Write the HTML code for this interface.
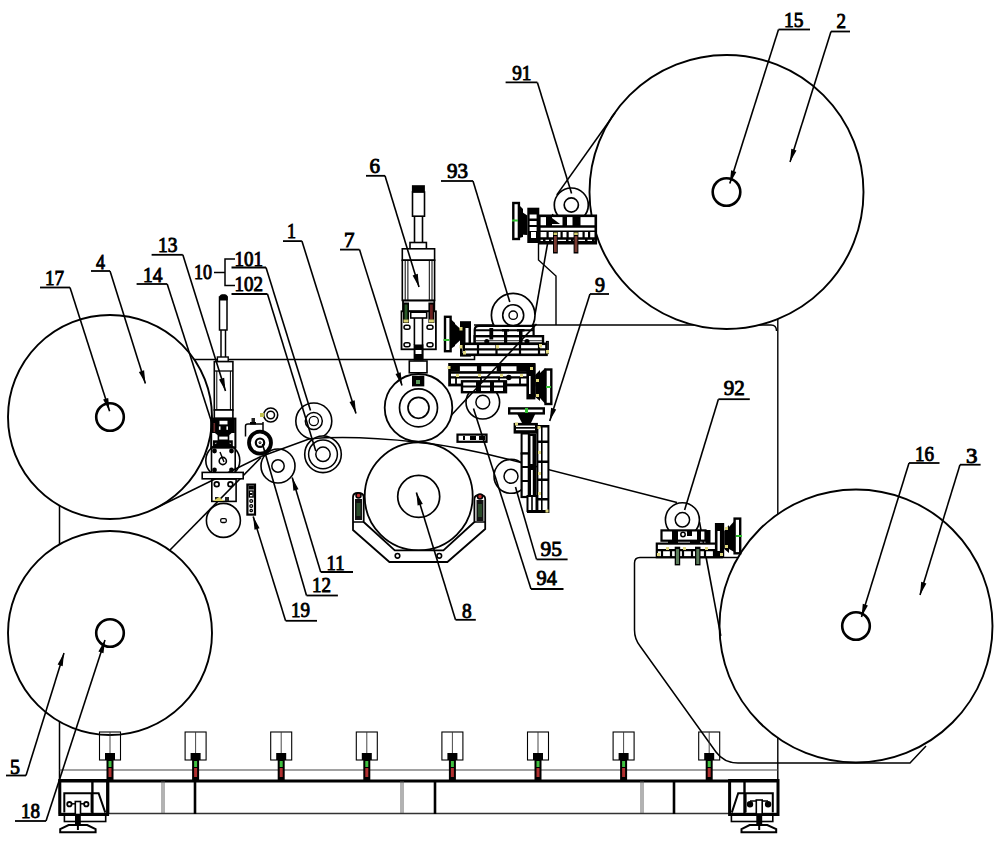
<!DOCTYPE html>
<html><head><meta charset="utf-8"><style>
html,body{margin:0;padding:0;background:#fff;width:1000px;height:841px;overflow:hidden}
svg{display:block}
text{font-family:"Liberation Serif",serif;font-size:21.4px;fill:#000;stroke:#000;stroke-width:0.95}
</style></head><body>
<svg width="1000" height="841" viewBox="0 0 1000 841">
<rect width="1000" height="841" fill="#fff"/>
<line x1="59.5" y1="500" x2="59.5" y2="814" stroke="#000" stroke-width="1.5"/>
<path d="M110,359.5 H474.5 V356" stroke="#000" stroke-width="1.6" fill="none"/>
<path d="M474,325 H771 Q776.5,325 776.5,331" stroke="#000" stroke-width="1.4" fill="none"/>
<line x1="777.8" y1="300" x2="777.8" y2="816" stroke="#000" stroke-width="1.4"/>
<path d="M760,557.4 H640 Q634.5,557.4 634.5,563 V630 Q634.5,639 640,646 L716,752 Q724,763 738,763 H910 L926,746" stroke="#000" stroke-width="1.5" fill="none"/>
<path d="M538.5,242 V260 L556,276 V325" stroke="#000" stroke-width="1.4" fill="none"/>
<line x1="59.5" y1="770" x2="778" y2="770" stroke="#444" stroke-width="1.1"/>
<line x1="59.5" y1="781" x2="778" y2="781" stroke="#000" stroke-width="3.2"/>
<line x1="59.5" y1="813.5" x2="778" y2="813.5" stroke="#333" stroke-width="1.3"/>
<line x1="108" y1="781" x2="108" y2="814" stroke="#000" stroke-width="2.6"/>
<line x1="195" y1="781" x2="195" y2="814" stroke="#000" stroke-width="2.6"/>
<line x1="435" y1="781" x2="435" y2="814" stroke="#000" stroke-width="2.6"/>
<line x1="674" y1="781" x2="674" y2="814" stroke="#000" stroke-width="2.6"/>
<line x1="162" y1="781" x2="162" y2="813" stroke="#555" stroke-width="0.9"/>
<line x1="164" y1="781" x2="164" y2="813" stroke="#555" stroke-width="0.9"/>
<line x1="401" y1="781" x2="401" y2="813" stroke="#555" stroke-width="0.9"/>
<line x1="403" y1="781" x2="403" y2="813" stroke="#555" stroke-width="0.9"/>
<line x1="641" y1="781" x2="641" y2="813" stroke="#555" stroke-width="0.9"/>
<line x1="643" y1="781" x2="643" y2="813" stroke="#555" stroke-width="0.9"/>
<rect x="59.8" y="780.5" width="47.8" height="34" stroke="#000" stroke-width="3" fill="none"/>
<line x1="92.4" y1="781" x2="92.4" y2="814" stroke="#000" stroke-width="2.4"/>
<path d="M64.3,812.6 V793.2 H98.6 L105.3,812.6" stroke="#000" stroke-width="2" fill="none"/>
<line x1="91.4" y1="793.2" x2="91.4" y2="812.6" stroke="#000" stroke-width="1.6"/>
<line x1="67" y1="803.8" x2="89" y2="803.8" stroke="#000" stroke-width="1.5"/>
<circle cx="69.4" cy="804.2" r="2.2" stroke="#000" stroke-width="1.8" fill="#fff"/>
<circle cx="86.3" cy="804.2" r="2.2" stroke="#000" stroke-width="1.8" fill="#fff"/>
<rect x="75.3" y="801.5" width="5.2" height="13" stroke="#000" stroke-width="1.6" fill="#fff"/>
<rect x="64.4" y="815.2" width="41.3" height="6.3" stroke="#000" stroke-width="1.6" fill="#fff"/>
<rect x="75" y="814" width="5.8" height="11" fill="#000"/>
<path d="M60.2,829.2 L68.6,825 H87.2 L95.6,829.2 V832.2 H60.2 Z" stroke="#000" stroke-width="2" fill="#fff"/>
<line x1="77.9" y1="821" x2="77.9" y2="830" stroke="#000" stroke-width="2"/>
<rect x="729.6" y="780.5" width="48.4" height="34" stroke="#000" stroke-width="3" fill="none"/>
<line x1="744.5" y1="781" x2="744.5" y2="814" stroke="#000" stroke-width="2.4"/>
<path d="M772.8,812.6 V793.2 H738.2 L731.8,812.6" stroke="#000" stroke-width="2" fill="none"/>
<line x1="745.8" y1="793.2" x2="745.8" y2="812.6" stroke="#000" stroke-width="1.6"/>
<line x1="750" y1="801" x2="768" y2="801" stroke="#000" stroke-width="1.5"/>
<circle cx="750" cy="804.2" r="2.4" stroke="#000" stroke-width="1.6" fill="#000"/>
<circle cx="768.1" cy="804.2" r="2.4" stroke="#000" stroke-width="1.6" fill="#000"/>
<rect x="756.3" y="800" width="5.9" height="14" stroke="#000" stroke-width="1.6" fill="#fff"/>
<rect x="731.4" y="815.2" width="41.4" height="6.3" stroke="#000" stroke-width="1.6" fill="#fff"/>
<rect x="756.3" y="814" width="5.9" height="11" fill="#000"/>
<path d="M741.5,829.2 L749.6,825 H767.3 L776.2,829.2 V832.2 H741.5 Z" stroke="#000" stroke-width="2" fill="#fff"/>
<line x1="759.2" y1="821" x2="759.2" y2="830" stroke="#000" stroke-width="2"/>
<circle cx="726.5" cy="192" r="137" stroke="#000" stroke-width="1.9" fill="#fff"/>
<circle cx="856" cy="626" r="136.5" stroke="#000" stroke-width="1.9" fill="#fff"/>
<circle cx="110" cy="417" r="102" stroke="#000" stroke-width="1.9" fill="#fff"/>
<circle cx="110" cy="633" r="102" stroke="#000" stroke-width="1.9" fill="#fff"/>
<circle cx="726.5" cy="192" r="13.8" stroke="#000" stroke-width="2.6" fill="none"/>
<circle cx="856" cy="626" r="13.8" stroke="#000" stroke-width="2.6" fill="none"/>
<circle cx="110" cy="417" r="13.8" stroke="#000" stroke-width="2.6" fill="none"/>
<circle cx="110" cy="633" r="13.8" stroke="#000" stroke-width="2.6" fill="none"/>
<rect x="99.5" y="732" width="21" height="28" stroke="#000" stroke-width="1.1" fill="none"/>
<line x1="110" y1="732" x2="110" y2="754" stroke="#333" stroke-width="0.9"/>
<rect x="105" y="753" width="10" height="7" fill="#000"/>
<rect x="106.5" y="759" width="7" height="22" fill="#000"/>
<rect x="108.5" y="761" width="3" height="6" fill="#40c040"/>
<rect x="108.5" y="768" width="3" height="9" fill="#b03030"/>
<rect x="185.1" y="732" width="21" height="28" stroke="#000" stroke-width="1.1" fill="none"/>
<line x1="195.6" y1="732" x2="195.6" y2="754" stroke="#333" stroke-width="0.9"/>
<rect x="190.6" y="753" width="10" height="7" fill="#000"/>
<rect x="192.1" y="759" width="7" height="22" fill="#000"/>
<rect x="194.1" y="761" width="3" height="6" fill="#40c040"/>
<rect x="194.1" y="768" width="3" height="9" fill="#b03030"/>
<rect x="270.7" y="732" width="21" height="28" stroke="#000" stroke-width="1.1" fill="none"/>
<line x1="281.2" y1="732" x2="281.2" y2="754" stroke="#333" stroke-width="0.9"/>
<rect x="276.2" y="753" width="10" height="7" fill="#000"/>
<rect x="277.7" y="759" width="7" height="22" fill="#000"/>
<rect x="279.7" y="761" width="3" height="6" fill="#40c040"/>
<rect x="279.7" y="768" width="3" height="9" fill="#b03030"/>
<rect x="356.3" y="732" width="21" height="28" stroke="#000" stroke-width="1.1" fill="none"/>
<line x1="366.8" y1="732" x2="366.8" y2="754" stroke="#333" stroke-width="0.9"/>
<rect x="361.8" y="753" width="10" height="7" fill="#000"/>
<rect x="363.3" y="759" width="7" height="22" fill="#000"/>
<rect x="365.3" y="761" width="3" height="6" fill="#40c040"/>
<rect x="365.3" y="768" width="3" height="9" fill="#b03030"/>
<rect x="441.9" y="732" width="21" height="28" stroke="#000" stroke-width="1.1" fill="none"/>
<line x1="452.4" y1="732" x2="452.4" y2="754" stroke="#333" stroke-width="0.9"/>
<rect x="447.4" y="753" width="10" height="7" fill="#000"/>
<rect x="448.9" y="759" width="7" height="22" fill="#000"/>
<rect x="450.9" y="761" width="3" height="6" fill="#40c040"/>
<rect x="450.9" y="768" width="3" height="9" fill="#b03030"/>
<rect x="527.5" y="732" width="21" height="28" stroke="#000" stroke-width="1.1" fill="none"/>
<line x1="538" y1="732" x2="538" y2="754" stroke="#333" stroke-width="0.9"/>
<rect x="533" y="753" width="10" height="7" fill="#000"/>
<rect x="534.5" y="759" width="7" height="22" fill="#000"/>
<rect x="536.5" y="761" width="3" height="6" fill="#40c040"/>
<rect x="536.5" y="768" width="3" height="9" fill="#b03030"/>
<rect x="613.1" y="732" width="21" height="28" stroke="#000" stroke-width="1.1" fill="none"/>
<line x1="623.6" y1="732" x2="623.6" y2="754" stroke="#333" stroke-width="0.9"/>
<rect x="618.6" y="753" width="10" height="7" fill="#000"/>
<rect x="620.1" y="759" width="7" height="22" fill="#000"/>
<rect x="622.1" y="761" width="3" height="6" fill="#40c040"/>
<rect x="622.1" y="768" width="3" height="9" fill="#b03030"/>
<rect x="698.7" y="732" width="21" height="28" stroke="#000" stroke-width="1.1" fill="none"/>
<line x1="709.2" y1="732" x2="709.2" y2="754" stroke="#333" stroke-width="0.9"/>
<rect x="704.2" y="753" width="10" height="7" fill="#000"/>
<rect x="705.7" y="759" width="7" height="22" fill="#000"/>
<rect x="707.7" y="761" width="3" height="6" fill="#40c040"/>
<rect x="707.7" y="768" width="3" height="9" fill="#b03030"/>
<circle cx="418.7" cy="496.4" r="54" stroke="#000" stroke-width="1.8" fill="#fff"/>
<circle cx="418.7" cy="496.4" r="21" stroke="#000" stroke-width="1.7" fill="none"/>
<circle cx="418.5" cy="407.8" r="33.8" stroke="#000" stroke-width="1.8" fill="#fff"/>
<circle cx="418.5" cy="407.8" r="19" stroke="#000" stroke-width="1.7" fill="none"/>
<circle cx="418.5" cy="407.8" r="10.5" stroke="#000" stroke-width="1.7" fill="none"/>
<circle cx="313.8" cy="421" r="18" stroke="#000" stroke-width="1.6" fill="#fff"/>
<circle cx="313.8" cy="421" r="8.5" stroke="#000" stroke-width="1.5" fill="none"/>
<circle cx="313.8" cy="421" r="4.6" stroke="#000" stroke-width="1.3" fill="none"/>
<circle cx="323" cy="454.3" r="18.3" stroke="#000" stroke-width="1.6" fill="#fff"/>
<circle cx="323" cy="454.3" r="14.4" stroke="#000" stroke-width="1.5" fill="none"/>
<circle cx="323" cy="454.3" r="7.2" stroke="#000" stroke-width="1.5" fill="none"/>
<circle cx="278" cy="466" r="17" stroke="#000" stroke-width="1.6" fill="#fff"/>
<circle cx="278" cy="466" r="6.2" stroke="#000" stroke-width="1.5" fill="none"/>
<circle cx="571.3" cy="205" r="17" stroke="#000" stroke-width="1.7" fill="#fff"/>
<circle cx="571.3" cy="205" r="7.1" stroke="#000" stroke-width="1.7" fill="none"/>
<circle cx="513.2" cy="315.2" r="21.8" stroke="#000" stroke-width="1.7" fill="#fff"/>
<circle cx="513.2" cy="315.2" r="10.5" stroke="#000" stroke-width="1.6" fill="none"/>
<circle cx="513.2" cy="315.2" r="4.2" stroke="#000" stroke-width="1.4" fill="none"/>
<circle cx="482.8" cy="402.2" r="16.8" stroke="#000" stroke-width="1.6" fill="#fff"/>
<circle cx="482.8" cy="402.2" r="6.9" stroke="#000" stroke-width="1.5" fill="none"/>
<circle cx="511" cy="476.3" r="17" stroke="#000" stroke-width="1.6" fill="#fff"/>
<circle cx="511" cy="476.3" r="7" stroke="#000" stroke-width="1.5" fill="none"/>
<circle cx="682.4" cy="519.8" r="17" stroke="#000" stroke-width="1.6" fill="#fff"/>
<circle cx="682.4" cy="519.8" r="7.2" stroke="#000" stroke-width="1.5" fill="none"/>
<path d="M699.5,522 L720.8,635.8" stroke="#000" stroke-width="1.6" fill="none"/>
<path d="M615,113 L556.8,194.9" stroke="#000" stroke-width="1.6" fill="none"/>
<path d="M552.8,214 L535,314.5" stroke="#000" stroke-width="1.6" fill="none"/>
<path d="M155,508.5 L261,456.5" stroke="#000" stroke-width="1.6" fill="none"/>
<path d="M170,550 L261,457.5" stroke="#000" stroke-width="1.6" fill="none"/>
<path d="M261,456.5 L309,439 C335,436.5 375,437.5 418,442.2 C450,445.5 480,452 507,459 L677,502.5" stroke="#000" stroke-width="1.6" fill="none"/>
<rect x="412.5" y="192" width="12" height="24.2" stroke="#000" stroke-width="1.6" fill="#fff"/>
<rect x="411.9" y="185.2" width="13" height="7.2" fill="#000"/>
<line x1="414.5" y1="216" x2="414.5" y2="242.5" stroke="#000" stroke-width="1.6"/>
<line x1="422.5" y1="216" x2="422.5" y2="242.5" stroke="#000" stroke-width="1.6"/>
<rect x="410" y="242.5" width="16.4" height="6.3" stroke="#000" stroke-width="1.6" fill="#fff"/>
<rect x="402.3" y="248.8" width="32.3" height="11.5" stroke="#000" stroke-width="1.6" fill="#fff"/>
<rect x="402.3" y="260.2" width="32.3" height="40.2" stroke="#000" stroke-width="1.6" fill="#fff"/>
<line x1="405.2" y1="260.2" x2="405.2" y2="300.4" stroke="#000" stroke-width="1.0"/>
<line x1="407.9" y1="260.2" x2="407.9" y2="300.4" stroke="#000" stroke-width="1.0"/>
<line x1="429.3" y1="260.2" x2="429.3" y2="300.4" stroke="#000" stroke-width="1.0"/>
<line x1="432" y1="260.2" x2="432" y2="300.4" stroke="#000" stroke-width="1.0"/>
<rect x="403" y="300.6" width="31.3" height="10.7" stroke="#000" stroke-width="1.8" fill="#fff"/>
<rect x="401.5" y="311.3" width="34.4" height="38" stroke="#000" stroke-width="1.8" fill="#fff"/>
<rect x="403" y="302.5" width="6" height="20.5" fill="#000"/>
<rect x="404.6" y="304.5" width="2.8" height="15" fill="#2a5a2a"/>
<rect x="403.5" y="319.5" width="5" height="3" fill="#d8d070"/>
<rect x="428.4" y="302.5" width="6" height="20.5" fill="#000"/>
<rect x="430" y="304.5" width="2.8" height="15" fill="#6a2020"/>
<rect x="428.9" y="319.5" width="5" height="3" fill="#d8d070"/>
<rect x="410.7" y="312.2" width="16" height="5.8" stroke="#000" stroke-width="1.6" fill="#fff"/>
<line x1="414.4" y1="318" x2="414.4" y2="345" stroke="#000" stroke-width="1.6"/>
<line x1="422.5" y1="318" x2="422.5" y2="345" stroke="#000" stroke-width="1.6"/>
<rect x="404" y="325.3" width="6" height="4" stroke="#000" stroke-width="1.5" fill="none" rx="2"/>
<rect x="427" y="325.3" width="6" height="4" stroke="#000" stroke-width="1.5" fill="none" rx="2"/>
<rect x="404" y="342.7" width="6" height="4" stroke="#000" stroke-width="1.5" fill="none" rx="2"/>
<rect x="427" y="342.7" width="6" height="4" stroke="#000" stroke-width="1.5" fill="none" rx="2"/>
<rect x="413.6" y="344.5" width="10" height="16" fill="#000"/>
<rect x="415.5" y="350" width="6" height="4" fill="#fff"/>
<rect x="409.3" y="361" width="17.7" height="11.8" stroke="#000" stroke-width="1.6" fill="#fff"/>
<rect x="412" y="375.7" width="12.3" height="10.7" fill="#000"/>
<rect x="416" y="380" width="4" height="4" fill="#5a9a5a"/>
<rect x="219.5" y="297" width="7.5" height="33" stroke="#000" stroke-width="1.5" fill="#fff"/>
<path d="M219.8,300 V297 Q219.8,294.8 222,294.8 H225 Q227.2,294.8 227.2,297 V300 Z" stroke="#000" stroke-width="1" fill="#000"/>
<line x1="221" y1="330" x2="221" y2="357" stroke="#000" stroke-width="1.5"/>
<line x1="225.5" y1="330" x2="225.5" y2="357" stroke="#000" stroke-width="1.5"/>
<rect x="217.4" y="357" width="10.8" height="4.6" stroke="#000" stroke-width="1.4" fill="#fff"/>
<rect x="214.3" y="361.6" width="18.6" height="48.4" stroke="#000" stroke-width="1.6" fill="#fff"/>
<line x1="214.3" y1="371" x2="232.9" y2="371" stroke="#000" stroke-width="1.3"/>
<line x1="216.8" y1="371" x2="216.8" y2="410" stroke="#000" stroke-width="1.0"/>
<line x1="230.4" y1="371" x2="230.4" y2="410" stroke="#000" stroke-width="1.0"/>
<rect x="214.3" y="410" width="18.6" height="8.4" stroke="#000" stroke-width="1.6" fill="#fff"/>
<rect x="211.2" y="418.6" width="24.2" height="29" stroke="#000" stroke-width="2" fill="#fff"/>
<rect x="212" y="419" width="22.8" height="14" fill="#000"/>
<rect x="219.5" y="420.8" width="8" height="3.6" fill="#fff"/>
<rect x="218.9" y="426.4" width="1.6" height="3.4" fill="#fff"/>
<rect x="226.4" y="426.4" width="1.6" height="3.4" fill="#fff"/>
<rect x="213.5" y="423" width="1.6" height="9" fill="#6a2a2a"/>
<path d="M214.6,432.8 L232,432.8 L228.5,435.8 L218.4,435.8 Z" fill="#000" stroke="#000" stroke-width="0"/>
<rect x="218.4" y="435.8" width="10.1" height="4.5" stroke="#000" stroke-width="1.6" fill="#fff"/>
<rect x="213" y="440.3" width="19.8" height="6.9" fill="#000"/>
<circle cx="215.8" cy="443.6" r="1" stroke="#000" stroke-width="1" fill="#fff"/>
<circle cx="230.2" cy="443.6" r="1" stroke="#000" stroke-width="1" fill="#fff"/>
<circle cx="222.8" cy="460.5" r="17" stroke="#000" stroke-width="1.6" fill="none"/>
<rect x="211.5" y="447.4" width="23.7" height="26.2" stroke="#000" stroke-width="1.6" fill="none"/>
<circle cx="214.5" cy="451" r="1.6" stroke="#000" stroke-width="1.6" fill="#000"/>
<circle cx="231.5" cy="451" r="1.6" stroke="#000" stroke-width="1.6" fill="#000"/>
<circle cx="214.5" cy="470" r="1.6" stroke="#000" stroke-width="1.6" fill="#000"/>
<circle cx="231.5" cy="470" r="1.6" stroke="#000" stroke-width="1.6" fill="#000"/>
<circle cx="222.8" cy="461" r="3.6" stroke="#000" stroke-width="1.6" fill="none"/>
<line x1="220" y1="452" x2="224" y2="462" stroke="#000" stroke-width="1.4"/>
<rect x="202.2" y="472.4" width="41" height="6.4" stroke="#000" stroke-width="1.6" fill="#fff"/>
<rect x="211.8" y="479" width="24.3" height="22.4" stroke="#000" stroke-width="1.6" fill="none"/>
<circle cx="216.7" cy="484.3" r="2.4" stroke="#000" stroke-width="1.7" fill="none"/>
<circle cx="230.4" cy="484.3" r="2.4" stroke="#000" stroke-width="1.7" fill="none"/>
<rect x="215" y="497" width="4" height="4" fill="#222"/>
<rect x="225" y="497" width="4" height="4" fill="#222"/>
<path d="M213,501 L219,497 L224,501 Z" fill="#d8d060" stroke="#000" stroke-width="0"/>
<circle cx="223.4" cy="520.4" r="17" stroke="#000" stroke-width="1.6" fill="#fff"/>
<rect x="220.7" y="518.6" width="5.6" height="3.9" stroke="#000" stroke-width="1.3" fill="none" rx="1.5"/>
<path d="M245.5,436.5 V426 Q245.5,424 248,424 H263" stroke="#000" stroke-width="1.5" fill="none"/>
<rect x="251.5" y="418" width="3.5" height="6" fill="#222"/>
<rect x="250" y="422" width="6" height="2.5" fill="#000"/>
<circle cx="270.7" cy="415" r="7" stroke="#000" stroke-width="1.6" fill="none"/>
<circle cx="270.7" cy="415" r="3.8" stroke="#000" stroke-width="1.5" fill="none"/>
<rect x="260" y="413" width="4" height="4" fill="#c0c050"/>
<line x1="263" y1="422" x2="263" y2="436" stroke="#000" stroke-width="1.5"/>
<circle cx="260" cy="442.7" r="11" stroke="#000" stroke-width="3.8" fill="#fff"/>
<circle cx="260" cy="442.7" r="4.2" stroke="#000" stroke-width="2.2" fill="none"/>
<circle cx="260" cy="442.7" r="1" stroke="#000" stroke-width="1" fill="none"/>
<rect x="247.4" y="484.6" width="7.6" height="30" stroke="#000" stroke-width="2.2" fill="#fff"/>
<rect x="248.5" y="486" width="5.4" height="3.5" fill="#000"/>
<rect x="249.3" y="491" width="3.8" height="6" stroke="#000" stroke-width="1.4" fill="none"/>
<rect x="249.8" y="493" width="2.6" height="2" fill="#000"/>
<circle cx="251.2" cy="501" r="1.4" stroke="#000" stroke-width="1.3" fill="none"/>
<circle cx="251.2" cy="506" r="1.4" stroke="#000" stroke-width="1.3" fill="none"/>
<circle cx="251.2" cy="510.5" r="1.2" stroke="#000" stroke-width="1.3" fill="none"/>
<rect x="513.3" y="203" width="5.6" height="36" stroke="#000" stroke-width="2.4" fill="#fff"/>
<path d="M519,210 L527.3,215.5 L527.3,235 L519,234.5 Z" fill="#000" stroke="#000" stroke-width="0"/>
<path d="M519,205 L523,209 L523,237 L519,238 Z" fill="#000" stroke="#000" stroke-width="0"/>
<rect x="527.3" y="207.7" width="12" height="35.3" fill="#000"/>
<rect x="529.6" y="214.5" width="7" height="4" fill="#fff"/>
<rect x="529.6" y="221" width="7" height="4" fill="#fff"/>
<rect x="529.6" y="227" width="7" height="4" fill="#fff"/>
<rect x="531" y="232" width="5" height="6" fill="#fff"/>
<rect x="539.3" y="215.8" width="56.5" height="27.4" stroke="#000" stroke-width="2.6" fill="#fff"/>
<line x1="539.3" y1="226.5" x2="595.8" y2="226.5" stroke="#000" stroke-width="2.6"/>
<line x1="539.3" y1="231.2" x2="595.8" y2="231.2" stroke="#000" stroke-width="1.6"/>
<line x1="539.3" y1="238.5" x2="595.8" y2="238.5" stroke="#000" stroke-width="2.4"/>
<rect x="546" y="216" width="6" height="10.5" fill="#000"/>
<rect x="562.5" y="216" width="4.5" height="10.5" fill="#000"/>
<rect x="572.5" y="216" width="8" height="10.5" fill="#000"/>
<path d="M552,218 L560,224 L552,224 Z" fill="#000" stroke="#000" stroke-width="0"/>
<rect x="546.5" y="231" width="2.2" height="7.5" fill="#000"/>
<rect x="560.5" y="231" width="2.2" height="7.5" fill="#000"/>
<rect x="566.5" y="231" width="2.2" height="7.5" fill="#000"/>
<rect x="582.5" y="231" width="2.2" height="7.5" fill="#000"/>
<rect x="588" y="231" width="2.2" height="7.5" fill="#000"/>
<line x1="539.3" y1="242.3" x2="595.8" y2="242.3" stroke="#000" stroke-width="2.8"/>
<rect x="543" y="238.5" width="2.5" height="4" fill="#000"/>
<rect x="549" y="238.5" width="2.5" height="4" fill="#000"/>
<rect x="566" y="238.5" width="2.5" height="4" fill="#000"/>
<rect x="571" y="238.5" width="2.5" height="4" fill="#000"/>
<rect x="585" y="238.5" width="2.5" height="4" fill="#000"/>
<rect x="592" y="238.5" width="2.5" height="4" fill="#000"/>
<rect x="553" y="232" width="4.8" height="21.5" fill="#000"/>
<rect x="554" y="236" width="2.8" height="16" fill="#7a3a30"/>
<rect x="573.6" y="232" width="4.8" height="21.5" fill="#000"/>
<rect x="574.6" y="236" width="2.8" height="16" fill="#7a3a30"/>
<rect x="553.6" y="232.5" width="3.6" height="2.5" fill="#d8d070"/>
<rect x="574.2" y="232.5" width="3.6" height="2.5" fill="#d8d070"/>
<rect x="512" y="219.5" width="6" height="2" fill="#30c030"/>
<rect x="445" y="316.8" width="5.6" height="34.4" stroke="#000" stroke-width="2.4" fill="#fff"/>
<path d="M450.6,319 L455,323 L455,346 L450.6,349 Z" fill="#000" stroke="#000" stroke-width="0"/>
<path d="M455,324 L460.5,329 L460.5,340 L455,345 Z" fill="#000" stroke="#000" stroke-width="0"/>
<rect x="460" y="321.2" width="11" height="35.4" fill="#000"/>
<rect x="465.5" y="328" width="3" height="18" fill="#fff"/>
<rect x="462" y="348" width="3" height="5" fill="#fff"/>
<path d="M474.7,343.8 V330 Q474.7,325.8 479,325.8 H533.6 V336.2" stroke="#000" stroke-width="2.2" fill="#fff"/>
<rect x="474.7" y="336.2" width="68.3" height="7.6" stroke="#000" stroke-width="2.4" fill="#fff"/>
<line x1="474.7" y1="330.3" x2="533.6" y2="330.3" stroke="#000" stroke-width="2"/>
<line x1="476" y1="340.6" x2="542" y2="340.6" stroke="#555" stroke-width="1.3"/>
<rect x="463.7" y="343.8" width="82.8" height="11" stroke="#000" stroke-width="2.6" fill="#fff"/>
<line x1="463.7" y1="349.3" x2="546.5" y2="349.3" stroke="#000" stroke-width="2.2"/>
<line x1="478" y1="343.8" x2="478" y2="354.8" stroke="#000" stroke-width="2.2"/>
<line x1="496.5" y1="343.8" x2="496.5" y2="354.8" stroke="#000" stroke-width="2.2"/>
<line x1="520" y1="343.8" x2="520" y2="354.8" stroke="#000" stroke-width="2.2"/>
<line x1="539" y1="343.8" x2="539" y2="354.8" stroke="#000" stroke-width="2.2"/>
<rect x="489.4" y="328" width="3.8" height="11.5" fill="#000"/>
<rect x="504" y="329" width="3.2" height="14" fill="#000"/>
<rect x="502" y="329" width="7" height="2.5" fill="#000"/>
<rect x="519" y="329" width="3.5" height="15" fill="#000"/>
<rect x="517" y="329" width="7.5" height="2.5" fill="#000"/>
<circle cx="486.8" cy="341.5" r="1.8" stroke="#000" stroke-width="1.5" fill="#000"/>
<circle cx="527" cy="341.5" r="1.8" stroke="#000" stroke-width="1.5" fill="#000"/>
<rect x="546.5" y="341.5" width="1.8" height="12" stroke="#000" stroke-width="1.2" fill="none"/>
<rect x="459.5" y="327" width="3" height="3.5" fill="#e0d880"/>
<rect x="459.5" y="345" width="3" height="3.5" fill="#e0d880"/>
<rect x="496" y="345" width="3" height="3.5" fill="#e0d880"/>
<rect x="539" y="344" width="3" height="3.5" fill="#e0d880"/>
<rect x="546" y="350" width="3" height="3.5" fill="#e0d880"/>
<rect x="463" y="351" width="3" height="3.5" fill="#e0d880"/>
<rect x="443.5" y="339" width="6" height="2" fill="#30c030"/>
<rect x="449.6" y="364.4" width="84.5" height="20.6" stroke="#000" stroke-width="2.8" fill="#fff"/>
<rect x="449.6" y="364.4" width="84.5" height="7.3" fill="#000"/>
<rect x="459.9" y="366.3" width="17" height="5" fill="#fff"/>
<rect x="481.3" y="366.3" width="15.4" height="5" fill="#fff"/>
<rect x="501.1" y="366.3" width="15.4" height="5" fill="#fff"/>
<line x1="449.6" y1="372.5" x2="534" y2="372.5" stroke="#000" stroke-width="2.4"/>
<line x1="449.6" y1="377.4" x2="534" y2="377.4" stroke="#000" stroke-width="2.2"/>
<line x1="456" y1="377.4" x2="456" y2="385" stroke="#000" stroke-width="1.8"/>
<line x1="481" y1="377.4" x2="481" y2="385" stroke="#000" stroke-width="1.8"/>
<line x1="499" y1="377.4" x2="499" y2="385" stroke="#000" stroke-width="1.8"/>
<line x1="520" y1="377.4" x2="520" y2="385" stroke="#000" stroke-width="1.8"/>
<rect x="462" y="381.3" width="44" height="10.9" stroke="#000" stroke-width="2.4" fill="#fff"/>
<line x1="462" y1="386.5" x2="506" y2="386.5" stroke="#000" stroke-width="1.8"/>
<rect x="476" y="381" width="5" height="11" fill="#000"/>
<rect x="490" y="381" width="4" height="11" fill="#000"/>
<rect x="503" y="381" width="4" height="11" fill="#000"/>
<circle cx="508.8" cy="377.4" r="2" stroke="#000" stroke-width="1.5" fill="#000"/>
<rect x="526.4" y="364.2" width="9" height="35.2" fill="#000"/>
<rect x="529" y="376" width="1.6" height="18" fill="#fff"/>
<path d="M535.2,375 L540,370 L540,401 L535.2,397 Z" fill="#000" stroke="#000" stroke-width="0"/>
<path d="M540,373 L545.3,368 L545.3,404 L540,398 Z" fill="#000" stroke="#000" stroke-width="0"/>
<rect x="545.5" y="369.5" width="5.8" height="34.5" stroke="#000" stroke-width="2.4" fill="#fff"/>
<rect x="447.5" y="366" width="3" height="3" fill="#e0d880"/>
<rect x="456" y="374" width="3" height="3" fill="#e0d880"/>
<rect x="478" y="374" width="3" height="3" fill="#e0d880"/>
<rect x="500" y="374" width="3" height="3" fill="#e0d880"/>
<rect x="520" y="374" width="3" height="3" fill="#e0d880"/>
<rect x="530" y="367" width="3" height="3" fill="#e0d880"/>
<rect x="536" y="379" width="3" height="3" fill="#e0d880"/>
<rect x="536" y="394" width="3" height="3" fill="#e0d880"/>
<rect x="546" y="386" width="5" height="2" fill="#30c030"/>
<rect x="509.2" y="408.4" width="34.6" height="5" stroke="#000" stroke-width="2.4" fill="#fff"/>
<path d="M517,413.6 L535.5,413.6 L531,423 L522,423 Z" fill="#000" stroke="#000" stroke-width="0"/>
<rect x="513.6" y="422.9" width="24.3" height="10.7" fill="#000"/>
<rect x="516" y="425.5" width="19" height="1.5" fill="#fff"/>
<rect x="516" y="428.7" width="19" height="1.5" fill="#fff"/>
<rect x="536.4" y="425" width="13" height="88" fill="#000"/>
<rect x="538.4" y="427.5" width="2.6" height="13" fill="#fff"/>
<rect x="542.6" y="427.5" width="4.8" height="13" fill="#fff"/>
<rect x="538.4" y="443" width="2.6" height="17.5" fill="#fff"/>
<rect x="542.6" y="443" width="4.8" height="17.5" fill="#fff"/>
<rect x="538.4" y="463" width="2.6" height="15.5" fill="#fff"/>
<rect x="542.6" y="463" width="4.8" height="15.5" fill="#fff"/>
<rect x="538.4" y="481" width="2.6" height="17" fill="#fff"/>
<rect x="542.6" y="481" width="4.8" height="17" fill="#fff"/>
<rect x="538.4" y="500.5" width="2.6" height="10" fill="#fff"/>
<rect x="542.6" y="500.5" width="4.8" height="10" fill="#fff"/>
<rect x="521.6" y="433.5" width="7.2" height="20" stroke="#000" stroke-width="2" fill="#fff"/>
<rect x="521.6" y="453.5" width="7.2" height="43.5" stroke="#000" stroke-width="2.2" fill="#fff"/>
<line x1="521.6" y1="467" x2="528.8" y2="467" stroke="#000" stroke-width="2"/>
<line x1="521.6" y1="481" x2="528.8" y2="481" stroke="#000" stroke-width="2"/>
<rect x="528.8" y="433.5" width="7.6" height="77" fill="#000"/>
<rect x="530.5" y="436" width="2" height="28" fill="#fff"/>
<rect x="531" y="470" width="1.8" height="30" fill="#fff"/>
<rect x="527.5" y="496" width="9" height="15" stroke="#000" stroke-width="2" fill="#fff"/>
<line x1="532" y1="496" x2="532" y2="511" stroke="#000" stroke-width="1.6"/>
<rect x="527" y="510" width="22" height="3" fill="#000"/>
<rect x="537.5" y="426" width="3" height="3" fill="#e0d880"/>
<rect x="538" y="451" width="3" height="3" fill="#e0d880"/>
<rect x="538" y="472" width="3" height="3" fill="#e0d880"/>
<rect x="538" y="492" width="3" height="3" fill="#e0d880"/>
<rect x="545.5" y="509.5" width="3" height="3" fill="#e0d880"/>
<rect x="515" y="422.5" width="3" height="3" fill="#e0d880"/>
<rect x="525" y="408" width="3" height="5" fill="#30c030"/>
<rect x="661.5" y="530.4" width="44" height="10.3" stroke="#000" stroke-width="2.2" fill="#fff"/>
<rect x="672" y="531" width="6" height="10" fill="#000"/>
<rect x="687" y="531" width="5" height="5" fill="#000"/>
<rect x="697" y="531" width="4" height="10" fill="#000"/>
<circle cx="683" cy="534.5" r="2.2" stroke="#000" stroke-width="1.5" fill="none"/>
<rect x="656.8" y="543.6" width="65" height="13.6" stroke="#000" stroke-width="2.2" fill="#fff"/>
<line x1="656.8" y1="550.2" x2="722" y2="550.2" stroke="#000" stroke-width="2.2"/>
<line x1="662" y1="550.2" x2="662" y2="557" stroke="#000" stroke-width="2.2"/>
<line x1="671" y1="550.2" x2="671" y2="557" stroke="#000" stroke-width="2.2"/>
<line x1="683" y1="550.2" x2="683" y2="557" stroke="#000" stroke-width="2.2"/>
<line x1="692" y1="550.2" x2="692" y2="557" stroke="#000" stroke-width="2.2"/>
<line x1="705" y1="550.2" x2="705" y2="557" stroke="#000" stroke-width="2.2"/>
<line x1="714" y1="550.2" x2="714" y2="557" stroke="#000" stroke-width="2.2"/>
<rect x="668" y="541" width="10" height="3" fill="#000"/>
<rect x="690" y="541" width="10" height="3" fill="#000"/>
<rect x="705.5" y="530" width="5" height="14" fill="#000"/>
<rect x="714.9" y="523" width="9.3" height="34" fill="#000"/>
<rect x="717.5" y="531" width="2.4" height="20" fill="#fff"/>
<path d="M724.2,531 L729,525 L729,553 L724.2,549 Z" fill="#000" stroke="#000" stroke-width="0"/>
<path d="M729,527 L734.3,521 L734.3,552 L729,549 Z" fill="#000" stroke="#000" stroke-width="0"/>
<rect x="734.6" y="518.6" width="5.6" height="34.7" stroke="#000" stroke-width="2.4" fill="#fff"/>
<rect x="674.7" y="546.7" width="5.5" height="18.7" fill="#000"/>
<rect x="676" y="549" width="3" height="15" fill="#5a7a5a"/>
<rect x="695" y="546.7" width="5.5" height="18.7" fill="#000"/>
<rect x="696.3" y="549" width="3" height="15" fill="#5a7a5a"/>
<rect x="657" y="553" width="3" height="3" fill="#e0d880"/>
<rect x="666" y="547" width="3" height="3" fill="#e0d880"/>
<rect x="683" y="547" width="3" height="3" fill="#e0d880"/>
<rect x="705" y="547" width="3" height="3" fill="#e0d880"/>
<rect x="720" y="553" width="3" height="3" fill="#e0d880"/>
<rect x="725" y="527" width="3" height="3" fill="#e0d880"/>
<rect x="725" y="545" width="3" height="3" fill="#e0d880"/>
<rect x="736" y="535" width="6" height="2" fill="#30c030"/>
<path d="M353,497 Q353,493 358,493 Q363.7,493 363.7,497 V522 L394.8,550.4 H443.4 L474.4,522 V499 Q474.4,495 479.8,495 Q485.2,495 485.2,499 V529 L447.4,562 H389.4 L353,530 Z" stroke="#000" stroke-width="1.8" fill="#fff"/>
<line x1="353" y1="522" x2="363.7" y2="522" stroke="#000" stroke-width="1.5"/>
<line x1="474.4" y1="522" x2="485.2" y2="522" stroke="#000" stroke-width="1.5"/>
<rect x="355" y="499" width="7" height="21" fill="#111"/>
<rect x="356.5" y="503" width="4" height="13" fill="#2a4a2a"/>
<rect x="476.5" y="500" width="7" height="21" fill="#111"/>
<rect x="478" y="504" width="4" height="13" fill="#2a4a2a"/>
<circle cx="358.5" cy="495.5" r="2.5" stroke="#000" stroke-width="1.5" fill="#c03030"/>
<circle cx="480" cy="496.5" r="2.5" stroke="#000" stroke-width="1.5" fill="#c03030"/>
<circle cx="397.5" cy="555.8" r="2.3" stroke="#000" stroke-width="1.6" fill="none"/>
<circle cx="439.3" cy="555.8" r="2.3" stroke="#000" stroke-width="1.6" fill="none"/>
<rect x="457.5" y="434.6" width="29" height="7.2" stroke="#000" stroke-width="2.2" fill="#fff"/>
<rect x="463" y="436" width="2" height="4" fill="#000"/>
<rect x="470" y="436" width="6" height="4" fill="#000"/>
<rect x="479" y="436" width="6" height="4" fill="#000"/>
<path d="M536.5,324 L451.5,415" stroke="#000" stroke-width="1.6" fill="none"/>
<line x1="778.5" y1="29.5" x2="810" y2="29.5" stroke="#000" stroke-width="1.8"/>
<line x1="778.5" y1="29.5" x2="729.8" y2="183.5" stroke="#000" stroke-width="1.6"/>
<path d="M729.8,183.5 L731.1,170.3 L736.3,171.9 Z" fill="#000"/>
<line x1="831" y1="31.5" x2="850" y2="31.5" stroke="#000" stroke-width="1.8"/>
<line x1="831" y1="31.5" x2="790" y2="162" stroke="#000" stroke-width="1.6"/>
<path d="M790.0,162.0 L791.3,148.8 L796.5,150.4 Z" fill="#000"/>
<line x1="505.6" y1="82.4" x2="537.4" y2="82.4" stroke="#000" stroke-width="1.8"/>
<line x1="537.4" y1="82.4" x2="571.6" y2="193.5" stroke="#000" stroke-width="1.6"/>
<line x1="441" y1="181" x2="473" y2="181" stroke="#000" stroke-width="1.8"/>
<line x1="473" y1="181" x2="509.8" y2="302" stroke="#000" stroke-width="1.6"/>
<line x1="366" y1="175.8" x2="385" y2="175.8" stroke="#000" stroke-width="1.8"/>
<line x1="385" y1="175.8" x2="419" y2="287" stroke="#000" stroke-width="1.6"/>
<path d="M419.0,287.0 L412.6,275.4 L417.8,273.8 Z" fill="#000"/>
<line x1="283" y1="241.1" x2="301.9" y2="241.1" stroke="#000" stroke-width="1.8"/>
<line x1="301.9" y1="241.1" x2="356" y2="413.5" stroke="#000" stroke-width="1.6"/>
<path d="M356.0,413.5 L349.5,401.9 L354.7,400.3 Z" fill="#000"/>
<line x1="340" y1="249.6" x2="359.5" y2="249.6" stroke="#000" stroke-width="1.8"/>
<line x1="359.5" y1="249.6" x2="402" y2="385.5" stroke="#000" stroke-width="1.6"/>
<path d="M402.0,385.5 L395.5,373.9 L400.7,372.3 Z" fill="#000"/>
<line x1="151.6" y1="254.8" x2="182.8" y2="254.8" stroke="#000" stroke-width="1.8"/>
<line x1="182.8" y1="254.8" x2="225.5" y2="391" stroke="#000" stroke-width="1.6"/>
<path d="M225.5,391.0 L219.0,379.4 L224.2,377.8 Z" fill="#000"/>
<line x1="231.5" y1="267.5" x2="266" y2="267.5" stroke="#000" stroke-width="1.8"/>
<line x1="266" y1="267.5" x2="310.5" y2="410.5" stroke="#000" stroke-width="1.6"/>
<line x1="231.5" y1="294" x2="267.5" y2="294" stroke="#000" stroke-width="1.8"/>
<line x1="267.5" y1="294" x2="315.8" y2="451" stroke="#000" stroke-width="1.6"/>
<line x1="40" y1="287.5" x2="70" y2="287.5" stroke="#000" stroke-width="1.8"/>
<line x1="70" y1="287.5" x2="109.6" y2="411.2" stroke="#000" stroke-width="1.6"/>
<path d="M109.6,411.2 L103.1,399.6 L108.2,398.0 Z" fill="#000"/>
<line x1="91" y1="271" x2="110" y2="271" stroke="#000" stroke-width="1.8"/>
<line x1="110" y1="271" x2="145.4" y2="383.5" stroke="#000" stroke-width="1.6"/>
<path d="M145.4,383.5 L138.9,371.9 L144.1,370.3 Z" fill="#000"/>
<line x1="136.6" y1="284" x2="167.2" y2="284" stroke="#000" stroke-width="1.8"/>
<line x1="167.2" y1="284" x2="212.5" y2="425" stroke="#000" stroke-width="1.6"/>
<line x1="590" y1="294" x2="609" y2="294" stroke="#000" stroke-width="1.8"/>
<line x1="590" y1="294" x2="549.7" y2="421" stroke="#000" stroke-width="1.6"/>
<path d="M549.7,421.0 L551.1,407.8 L556.2,409.4 Z" fill="#000"/>
<line x1="718.4" y1="399.2" x2="749.8" y2="399.2" stroke="#000" stroke-width="1.8"/>
<line x1="718.4" y1="399.2" x2="684.6" y2="510" stroke="#000" stroke-width="1.6"/>
<line x1="909" y1="463" x2="939.5" y2="463" stroke="#000" stroke-width="1.8"/>
<line x1="909" y1="463" x2="861.5" y2="617" stroke="#000" stroke-width="1.6"/>
<path d="M861.5,617.0 L862.8,603.8 L867.9,605.4 Z" fill="#000"/>
<line x1="960" y1="464.7" x2="980.6" y2="464.7" stroke="#000" stroke-width="1.8"/>
<line x1="960" y1="464.7" x2="920" y2="595" stroke="#000" stroke-width="1.6"/>
<path d="M920.0,595.0 L921.2,581.8 L926.4,583.4 Z" fill="#000"/>
<line x1="536.5" y1="559.4" x2="567.6" y2="559.4" stroke="#000" stroke-width="1.8"/>
<line x1="536.5" y1="559.4" x2="515.5" y2="487" stroke="#000" stroke-width="1.6"/>
<line x1="531" y1="589" x2="563.5" y2="589" stroke="#000" stroke-width="1.8"/>
<line x1="531" y1="589" x2="473.5" y2="408.5" stroke="#000" stroke-width="1.6"/>
<line x1="455.5" y1="619.8" x2="475.8" y2="619.8" stroke="#000" stroke-width="1.8"/>
<line x1="455.5" y1="619.8" x2="416.4" y2="492.4" stroke="#000" stroke-width="1.6"/>
<path d="M416.4,492.4 L422.8,504.0 L417.6,505.6 Z" fill="#000"/>
<line x1="320.7" y1="572" x2="353" y2="572" stroke="#000" stroke-width="1.8"/>
<line x1="320.7" y1="572" x2="292.2" y2="477.6" stroke="#000" stroke-width="1.6"/>
<path d="M292.2,477.6 L298.5,489.3 L293.4,490.8 Z" fill="#000"/>
<line x1="306.5" y1="595.5" x2="337.9" y2="595.5" stroke="#000" stroke-width="1.8"/>
<line x1="306.5" y1="595.5" x2="262.5" y2="444" stroke="#000" stroke-width="1.6"/>
<line x1="285.6" y1="620.8" x2="317" y2="620.8" stroke="#000" stroke-width="1.8"/>
<line x1="285.6" y1="620.8" x2="253.2" y2="516.6" stroke="#000" stroke-width="1.6"/>
<path d="M253.2,516.6 L259.6,528.2 L254.5,529.8 Z" fill="#000"/>
<line x1="6" y1="775.5" x2="26" y2="775.5" stroke="#000" stroke-width="1.8"/>
<line x1="26" y1="775.5" x2="64" y2="653" stroke="#000" stroke-width="1.6"/>
<path d="M64.0,653.0 L62.7,666.2 L57.6,664.6 Z" fill="#000"/>
<line x1="15" y1="821" x2="46" y2="821" stroke="#000" stroke-width="1.8"/>
<line x1="46" y1="821" x2="105" y2="640" stroke="#000" stroke-width="1.6"/>
<path d="M105.0,640.0 L103.5,653.2 L98.4,651.5 Z" fill="#000"/>
<path d="M214,272.5 H225 M235,259 H225 V285.5 H235" stroke="#000" stroke-width="1.5" fill="none"/>
<text x="784" y="26.7" textLength="19.5" lengthAdjust="spacingAndGlyphs">15</text>
<text x="836.5" y="28.2" textLength="9.5" lengthAdjust="spacingAndGlyphs">2</text>
<text x="512.2" y="79.7" textLength="19.2" lengthAdjust="spacingAndGlyphs">91</text>
<text x="447" y="177.7" textLength="21" lengthAdjust="spacingAndGlyphs">93</text>
<text x="369.5" y="172.7" textLength="10.5" lengthAdjust="spacingAndGlyphs">6</text>
<text x="287" y="237.5" textLength="9" lengthAdjust="spacingAndGlyphs">1</text>
<text x="344" y="246.5" textLength="10.5" lengthAdjust="spacingAndGlyphs">7</text>
<text x="158" y="251.7" textLength="19.5" lengthAdjust="spacingAndGlyphs">13</text>
<text x="234.5" y="265.7" textLength="28.5" lengthAdjust="spacingAndGlyphs">101</text>
<text x="234.5" y="291.2" textLength="28.5" lengthAdjust="spacingAndGlyphs">102</text>
<text x="45" y="284.7" textLength="19" lengthAdjust="spacingAndGlyphs">17</text>
<text x="96" y="268.7" textLength="9" lengthAdjust="spacingAndGlyphs">4</text>
<text x="143" y="281.7" textLength="19.5" lengthAdjust="spacingAndGlyphs">14</text>
<text x="595" y="291.7" textLength="10" lengthAdjust="spacingAndGlyphs">9</text>
<text x="723.7" y="395" textLength="21" lengthAdjust="spacingAndGlyphs">92</text>
<text x="915" y="460.7" textLength="19" lengthAdjust="spacingAndGlyphs">16</text>
<text x="966" y="462.5" textLength="11.5" lengthAdjust="spacingAndGlyphs">3</text>
<text x="540.6" y="555.5" textLength="21.4" lengthAdjust="spacingAndGlyphs">95</text>
<text x="536.5" y="585.2" textLength="20.3" lengthAdjust="spacingAndGlyphs">94</text>
<text x="462" y="617.7" textLength="9.7" lengthAdjust="spacingAndGlyphs">8</text>
<text x="326.5" y="569.7" textLength="18" lengthAdjust="spacingAndGlyphs">11</text>
<text x="312" y="592.3" textLength="19" lengthAdjust="spacingAndGlyphs">12</text>
<text x="291" y="617.1" textLength="19" lengthAdjust="spacingAndGlyphs">19</text>
<text x="10" y="773.7" textLength="10" lengthAdjust="spacingAndGlyphs">5</text>
<text x="21" y="817.7" textLength="19" lengthAdjust="spacingAndGlyphs">18</text>
<text x="194" y="279.2" textLength="18" lengthAdjust="spacingAndGlyphs">10</text>
</svg>
</body></html>
